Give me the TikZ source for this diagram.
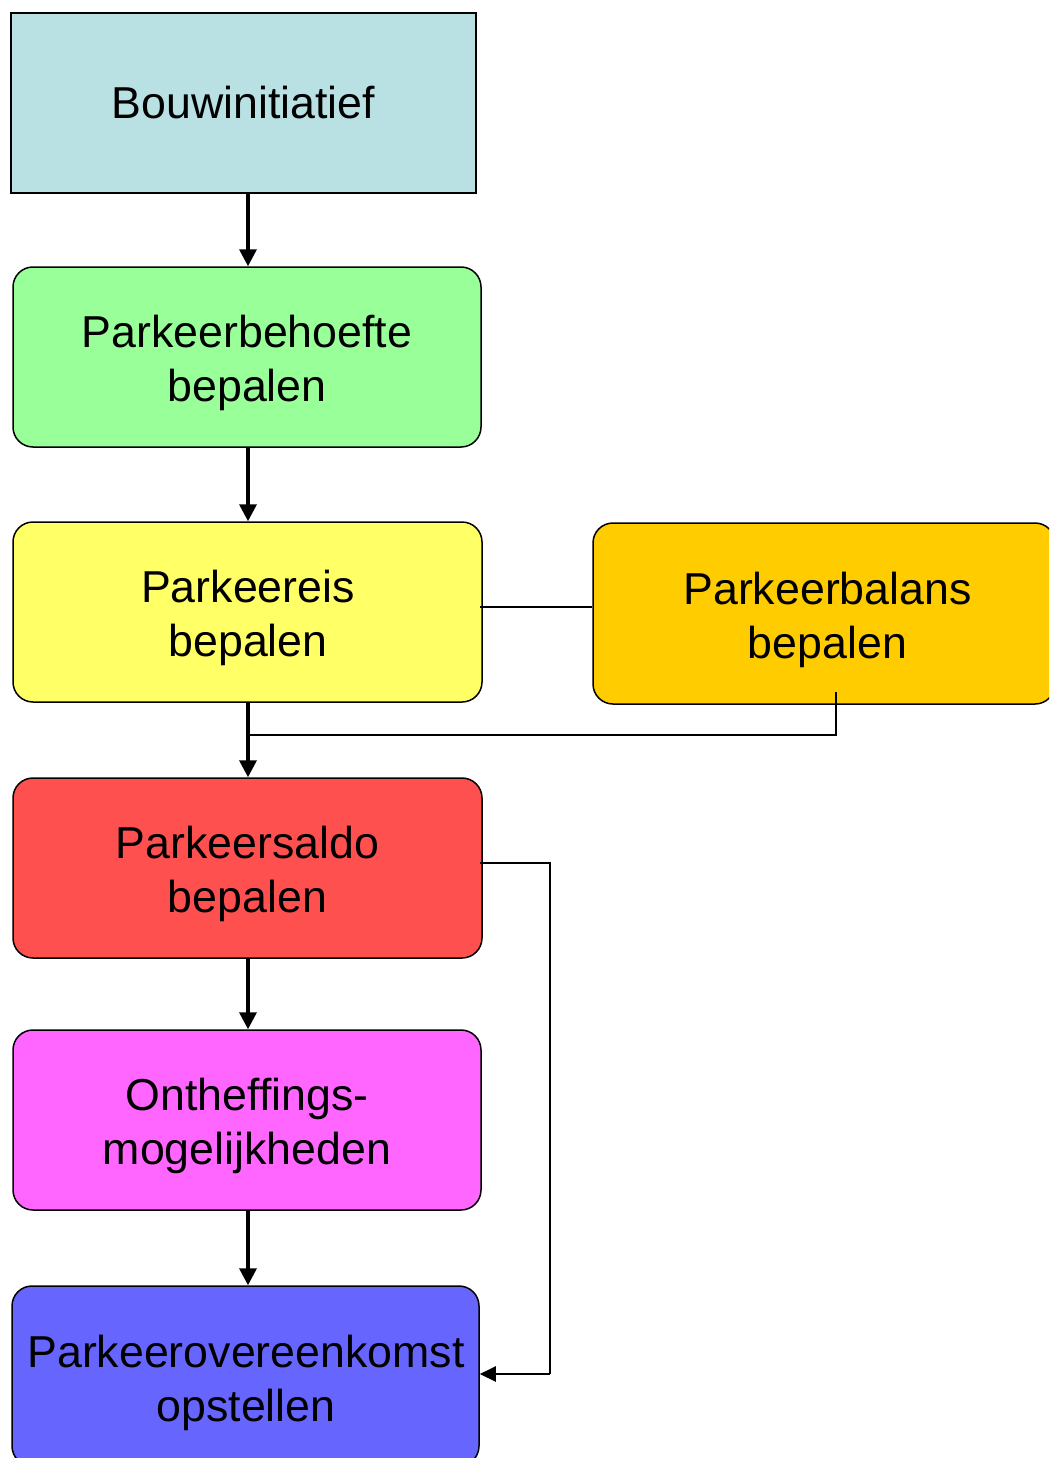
\documentclass[tikz,border=0pt]{standalone}
\usepackage{fontspec}
\setmainfont{Liberation Sans}
\usetikzlibrary{arrows.meta}
\definecolor{cblue}{HTML}{B9E0E3}
\definecolor{cgreen}{HTML}{99FF99}
\definecolor{cyellow}{HTML}{FFFF66}
\definecolor{corange}{HTML}{FFCC00}
\definecolor{cred}{HTML}{FF5050}
\definecolor{cmag}{HTML}{FF66FF}
\definecolor{cviolet}{HTML}{6666FF}
\tikzset{
  box/.style={draw=black, line width=1.5pt, minimum width=468pt, minimum height=180pt,
    inner sep=0pt},
  rbox/.style={box, rounded corners=20pt},
  txt/.style={inner sep=0pt, align=center, font=\fontsize{44.7}{54}\selectfont},
  flowarrow/.style={line width=3.5pt, -{Triangle[length=17pt,width=17pt]}},
  link/.style={line width=1.5pt},
  linkarrow/.style={line width=2pt, -{Triangle[length=16pt,width=15pt]}}
}
\begin{document}
\begin{tikzpicture}[x=1pt,y=-1pt]
\useasboundingbox (0,0) rectangle (1049,1458);
\clip (0,0) rectangle (1049,1458);
\node[box, fill=cblue, minimum width=465pt] (b1) at (243.5,103) {};
\node[rbox, fill=cgreen] (b2) at (247,357) {};
\node[rbox, fill=cyellow, minimum width=469pt] (b3) at (247.5,612) {};
\node[rbox, fill=corange, minimum width=462pt, minimum height=181pt] (b4) at (824,613.5) {};
\node[rbox, fill=cred, minimum width=469pt] (b5) at (247.5,868) {};
\node[rbox, fill=cmag] (b6) at (247,1120) {};
\node[rbox, fill=cviolet, minimum width=467pt] (b7) at (245.5,1376) {};
\node[txt] (t1) at (243.5,103) {Bouwinitiatief};
\node[txt] (t2) at (247,363) {Parkeerbehoefte\\bepalen};
\node[txt] (t3) at (248,617.5) {Parkeereis\\bepalen};
\node[txt] (t4) at (827.5,619.5) {Parkeerbalans\\bepalen};
\node[txt] (t5) at (247.5,874) {Parkeersaldo\\bepalen};
\node[txt] (t6) at (247,1126) {Ontheffings-\\mogelijkheden};
\node[txt] (t7) at (246,1383) {Parkeerovereenkomst\\opstellen};
\coordinate (ax) at (248,0);
\coordinate (j) at (836,735);
\coordinate (rv) at (550,0);
\coordinate (h1) at (0,607);
\coordinate (h2) at (0,863);
\coordinate (h3) at (0,1374);
\coordinate (h4) at (0,692);
\draw[flowarrow] (b1.south -| ax) -- (b2.north -| ax);
\draw[flowarrow] (b2.south -| ax) -- (b3.north -| ax);
\draw[flowarrow] (b3.south -| ax) -- (b5.north -| ax);
\draw[flowarrow] (b5.south -| ax) -- (b6.north -| ax);
\draw[flowarrow] (b6.south -| ax) -- (b7.north -| ax);
\draw[link] ([xshift=-3pt]b3.east |- h1) -- (b4.west |- h1);
\draw[link] (j |- h4) -- (j) -- (ax |- j);
\draw[link] ([xshift=-3pt]b5.east |- h2) -- (rv |- h2) -- (rv |- h3);
\draw[linkarrow] (rv |- h3) -- (b7.east |- h3);
\end{tikzpicture}
\end{document}
